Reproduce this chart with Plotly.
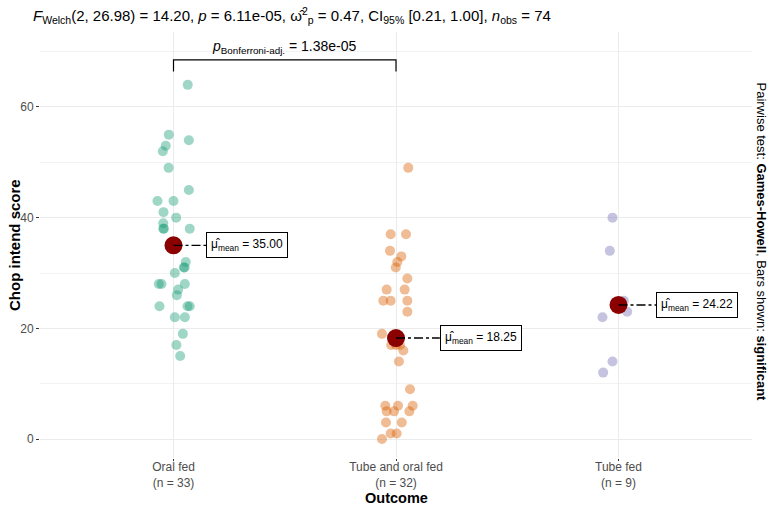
import numpy as np
import plotly.graph_objects as go

# ---------------- data ----------------
categories = ["Oral fed", "Tube and oral fed", "Tube fed"]

oral_fed = [64, 55, 54, 53, 52, 49, 45, 43, 43, 41, 40, 39, 38, 38, 38, 35,
            32, 31, 31, 30, 28, 28, 28, 27, 26, 24, 24, 24, 22, 22, 19, 17, 15]
tube_and_oral_fed = [49, 37, 37, 34, 33, 32, 31, 29, 27, 27, 25, 25, 25, 23, 19,
                     17, 17, 17, 16, 14, 9, 6, 6, 6, 5, 5, 5, 3, 3, 1, 1, 0]
tube_fed = [40, 34, 25, 24, 24, 23, 22, 14, 12]

# horizontal jitter (category units)
oral_jitter = [0.064, -0.021, 0.069, -0.035, -0.048, -0.022, 0.069, -0.072, 0.0,
               -0.045, 0.012, -0.046, -0.046, -0.043, 0.073, 0.013, 0.055, 0.046,
               0.050, 0.006, -0.066, -0.054, 0.051, 0.021, 0.015, -0.063, 0.063,
               0.073, 0.006, 0.051, 0.042, 0.013, 0.030]
tube_oral_jitter = [0.055, -0.024, 0.045, -0.027, 0.024, 0.006, -0.001, 0.051,
                    -0.042, 0.039, -0.057, -0.024, 0.051, 0.051, -0.063, -0.022,
                    0.018, 0.0, 0.033, 0.013, 0.063, -0.048, 0.009, 0.075, -0.042,
                    -0.009, 0.060, -0.045, 0.026, -0.024, 0.003, -0.063]
tube_jitter = [-0.027, -0.039, 0.024, 0.0, 0.009, 0.039, -0.072, -0.027, -0.069]

subtitle = ("<i>F</i><sub>Welch</sub>(2, 26.98) = 14.20, <i>p</i> = 6.11e-05, "
            "ω̂<sup>2</sup><sub>p</sub> = 0.47, CI<sub>95%</sub> [0.21, 1.00], "
            "<i>n</i><sub>obs</sub> = 74")
pair_label = "<i>p</i><sub>Bonferroni-adj.</sub> = 1.38e-05"
caption = "Pairwise test: <b>Games-Howell</b>, Bars shown: <b>significant</b>"
x_title = "Outcome"
y_title = "Chop intend score"

groups = [oral_fed, tube_and_oral_fed, tube_fed]
jitters = [oral_jitter, tube_oral_jitter, tube_jitter]
colors = ["rgba(27,158,119,0.42)", "rgba(217,95,2,0.42)", "rgba(117,112,179,0.42)"]
label_offsets = [0.148, 0.197, 0.170]

FONT = "Liberation Sans, Arial, sans-serif"

fig = go.Figure()

for i, (vals, jit, col) in enumerate(zip(groups, jitters, colors)):
    fig.add_trace(go.Scatter(
        x=[i + j for j in jit], y=vals, mode="markers",
        marker=dict(size=10, color=col, line=dict(width=0)),
        showlegend=False, hoverinfo="y"))

for i, vals in enumerate(groups):
    m = float(np.mean(vals))
    fig.add_trace(go.Scatter(
        x=[i], y=[m], mode="markers",
        marker=dict(size=18, color="#8B0000", line=dict(width=0)),
        showlegend=False))
    fig.add_trace(go.Scatter(
        x=[i, i + label_offsets[i]], y=[m, m], mode="lines",
        line=dict(color="black", width=1.3, dash="dashdot"),
        showlegend=False, hoverinfo="skip"))
    fig.add_annotation(
        x=i + label_offsets[i], y=m, xref="x", yref="y",
        xanchor="left", yanchor="middle", showarrow=False,
        text=f"μ̂<sub>mean</sub> = {m:.2f}",
        font=dict(family=FONT, size=12, color="black"),
        bgcolor="white", bordercolor="black", borderwidth=1, borderpad=4)

# significance bracket between group 0 and group 1
bracket_y, bracket_tick = 68.5, 66.4
fig.add_trace(go.Scatter(
    x=[0, 0, 1, 1], y=[bracket_tick, bracket_y, bracket_y, bracket_tick],
    mode="lines", line=dict(color="black", width=1.2),
    showlegend=False, hoverinfo="skip"))
fig.add_annotation(
    x=0.5, y=bracket_y + 0.4, xref="x", yref="y", xanchor="center", yanchor="bottom",
    showarrow=False, text=pair_label, font=dict(family=FONT, size=14, color="black"))

# panel geometry (pixels)
L, R, T, B = 40, 15, 32, 48
W, H = 767, 506
pw, ph = W - L - R, H - T - B

# subtitle
fig.add_annotation(
    x=(31 - L) / pw, y=1 + (T - 16) / ph, xref="paper", yref="paper",
    xanchor="left", yanchor="middle",
    showarrow=False, text=subtitle, font=dict(family=FONT, size=15, color="black"))

# caption on right, rotated
fig.add_annotation(
    x=1.0, y=(T + ph - 242) / ph, xref="paper", yref="paper", xanchor="left", yanchor="middle",
    xshift=0, textangle=90, showarrow=False, text=caption,
    font=dict(family=FONT, size=13, color="black"))

# axis titles
fig.add_annotation(
    x=0.5, y=-(498 - (T + ph)) / ph, xref="paper", yref="paper",
    xanchor="center", yanchor="middle", showarrow=False,
    text=f"<b>{x_title}</b>", font=dict(family=FONT, size=14.5, color="black"))
fig.add_annotation(
    x=-(L - 14) / pw, y=0.5, xref="paper", yref="paper",
    xanchor="center", yanchor="middle", textangle=-90, showarrow=False,
    text=f"<b>{y_title}</b>", font=dict(family=FONT, size=15, color="black"))

ticktext = [f"{c}<br>(n = {len(g)})" for c, g in zip(categories, groups)]

fig.update_layout(
    width=W, height=H,
    margin=dict(l=L, r=R, t=T, b=B, autoexpand=False),
    paper_bgcolor="white", plot_bgcolor="white",
    font=dict(family=FONT),
    xaxis=dict(
        range=[-0.6, 2.6], tickmode="array", tickvals=[0, 1, 2], ticktext=ticktext,
        showgrid=True, gridcolor="#EBEBEB", gridwidth=1, zeroline=False,
        ticks="outside", ticklen=2, tickcolor="#333333", tickwidth=1,
        ticklabelstandoff=-4,
        tickfont=dict(family=FONT, size=12, color="#4D4D4D"),
        automargin=False, showline=False),
    yaxis=dict(
        range=[-3.43, 73.55], tickmode="array", tickvals=[0, 20, 40, 60],
        showgrid=True, gridcolor="#EBEBEB", gridwidth=1, zeroline=False,
        ticks="outside", ticklen=3, tickcolor="#333333", tickwidth=1,
        tickfont=dict(family=FONT, size=12, color="#4D4D4D"),
        minor=dict(tickmode="array", tickvals=[10, 30, 50, 70], showgrid=True,
                   gridcolor="#F2F2F2", gridwidth=0.6, ticks=""),
        automargin=False, showline=False),
)

fig.write_html("out.html", config={"displayModeBar": False},
               post_script="document.body.style.margin='0px';document.body.style.overflow='hidden';")
